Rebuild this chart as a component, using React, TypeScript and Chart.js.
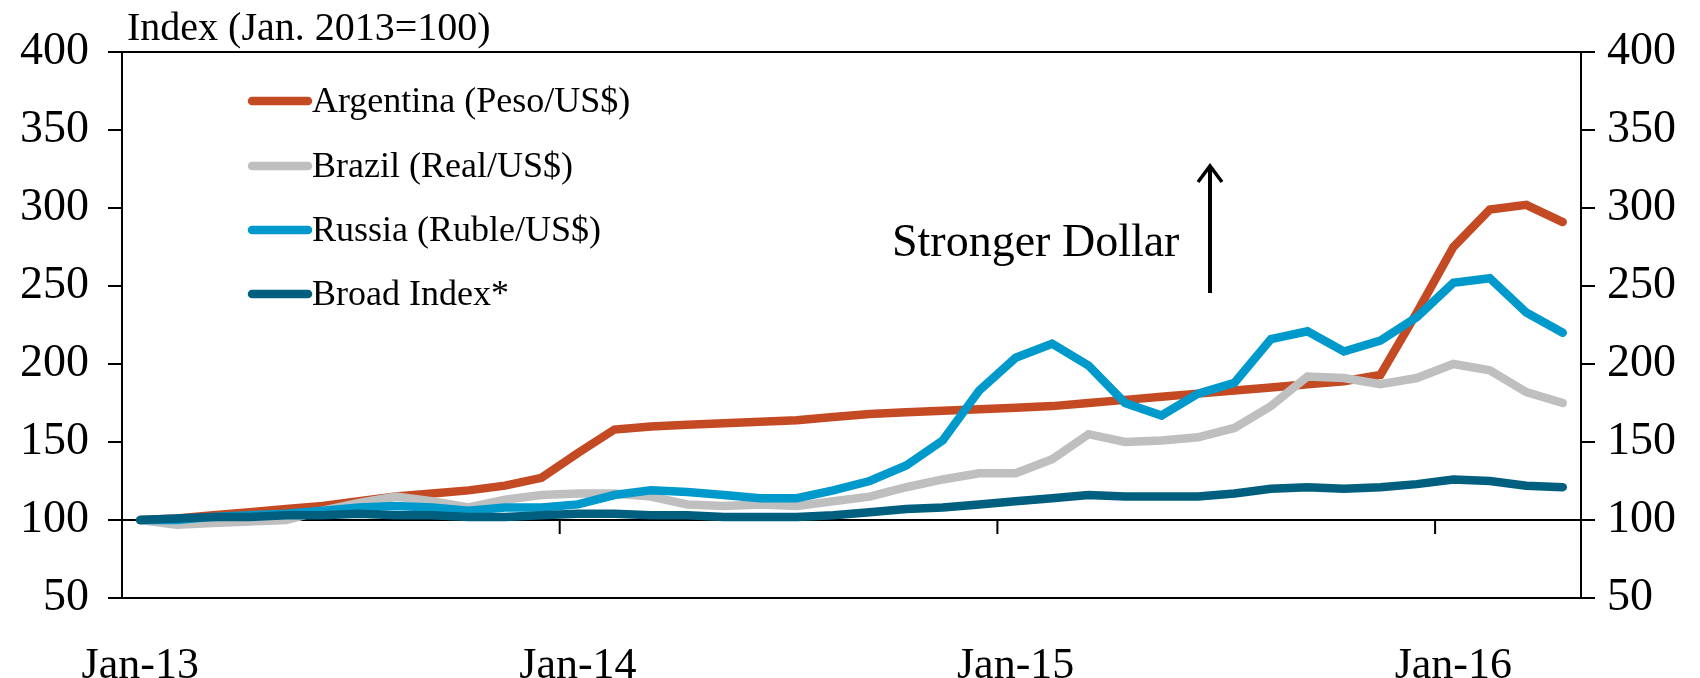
import React, { useEffect, useRef } from "react";
import { Chart, registerables } from "chart.js";
Chart.register(...registerables);

const categories = [
  "Jan-13","Feb-13","Mar-13","Apr-13","May-13","Jun-13","Jul-13","Aug-13","Sep-13","Oct-13","Nov-13","Dec-13",
  "Jan-14","Feb-14","Mar-14","Apr-14","May-14","Jun-14","Jul-14","Aug-14","Sep-14","Oct-14","Nov-14","Dec-14",
  "Jan-15","Feb-15","Mar-15","Apr-15","May-15","Jun-15","Jul-15","Aug-15","Sep-15","Oct-15","Nov-15","Dec-15",
  "Jan-16","Feb-16","Mar-16","Apr-16",
];

const argentina = [100,101,103,105,107,109,112,115,117,119,122,127,143,158,160,161,162,163,164,166,168,169,170,171,172,173,175,177,179,181,183,185,187,189,193,233,275,299,302,291];
const brazil = [100,97,98,99,100,106,111,115,112,108,113,116,117,117,115,110,109,110,109,112,115,121,126,130,130,139,155,150,151,153,159,173,192,191,187,191,200,196,182,175];
const russia = [100,100,102,103,104,106,108,109,108,106,108,108,110,116,119,118,116,114,114,119,125,135,151,183,204,213,199,175,167,181,188,216,221,208,215,230,252,255,233,220];
const broadIndex = [100,101,102,102,103,103,104,103,103,102,102,103,104,104,103,103,102,102,102,103,105,107,108,110,112,114,116,115,115,115,117,120,121,120,121,123,126,125,122,121];

const xTickLabels = ["Jan-13", "Jan-14", "Jan-15", "Jan-16"];
const seriesNames = ["Argentina (Peso/US$)", "Brazil (Real/US$)", "Russia (Ruble/US$)", "Broad Index*"];
const seriesColors = ["#C44A24", "#BFBFBF", "#0099CC", "#005F7F"];
const yTitle = "Index (Jan. 2013=100)";
const annotationText = "Stronger Dollar";

const FONT = "'Liberation Serif', 'DejaVu Serif', serif";

const decorPlugin = {
  id: "decor",
  beforeDatasetsDraw(chart: any) {
    const { ctx, chartArea } = chart;
    const y = chart.scales.y;
    const x = chart.scales.x;
    ctx.save();
    ctx.strokeStyle = "#000";
    ctx.lineWidth = 2;
    ctx.beginPath();
    ctx.moveTo(chartArea.left, chartArea.top);
    ctx.lineTo(chartArea.right, chartArea.top);
    ctx.moveTo(chartArea.left, chartArea.bottom);
    ctx.lineTo(chartArea.right, chartArea.bottom);
    const y100 = y.getPixelForValue(100);
    ctx.moveTo(chartArea.left, y100);
    ctx.lineTo(chartArea.right, y100);
    ctx.stroke();
    ctx.beginPath();
    categories.forEach((c, i) => {
      if (i > 0 && xTickLabels.includes(c)) {
        const px = (x.getPixelForValue(i) + x.getPixelForValue(i - 1)) / 2;
        ctx.moveTo(px, y100);
        ctx.lineTo(px, y100 + 14);
      }
    });
    ctx.stroke();
    ctx.restore();
  },
  afterDraw(chart: any) {
    const { ctx } = chart;
    ctx.save();
    ctx.fillStyle = "#000";
    ctx.font = `40px ${FONT}`;
    ctx.textBaseline = "alphabetic";
    ctx.textAlign = "left";
    ctx.fillText(yTitle, 127, 40);
    const rows = [101, 166, 230, 294];
    ctx.font = `36px ${FONT}`;
    ctx.textBaseline = "middle";
    seriesNames.forEach((n, i) => {
      ctx.strokeStyle = seriesColors[i];
      ctx.lineWidth = 8.5;
      ctx.lineCap = "round";
      ctx.beginPath();
      ctx.moveTo(252, rows[i]);
      ctx.lineTo(308, rows[i]);
      ctx.stroke();
      ctx.fillStyle = "#000";
      ctx.fillText(n, 312, rows[i] + 2);
    });
    ctx.font = `46px ${FONT}`;
    ctx.textBaseline = "alphabetic";
    ctx.fillText(annotationText, 892, 256);
    const ax = 1210;
    ctx.strokeStyle = "#000";
    ctx.lineWidth = 4;
    ctx.lineCap = "butt";
    ctx.beginPath();
    ctx.moveTo(ax, 293);
    ctx.lineTo(ax, 168);
    ctx.stroke();
    ctx.lineWidth = 3.5;
    ctx.beginPath();
    ctx.moveTo(ax - 12, 182);
    ctx.lineTo(ax, 166);
    ctx.lineTo(ax + 12, 182);
    ctx.stroke();
    ctx.restore();
  },
};

export default function App() {
  const ref = useRef<HTMLCanvasElement | null>(null);
  useEffect(() => {
    document.body.style.margin = "0";
    const series = [argentina, brazil, russia, broadIndex];
    const yCommon = (position: string, width: number, pad: number) => ({
      position,
      min: 50,
      max: 400,
      ticks: {
        stepSize: 50,
        color: "#000",
        padding: pad,
        font: { family: FONT, size: 46 },
      },
      grid: { drawOnChartArea: false, drawTicks: true, tickLength: 14, color: "#000", lineWidth: 2 },
      border: { display: true, color: "#000", width: 2 },
      afterFit: (s: any) => {
        s.width = width;
      },
    });
    const chart = new Chart(ref.current as HTMLCanvasElement, {
      type: "line",
      data: {
        labels: categories,
        datasets: series.map((d, i) => ({
          label: seriesNames[i],
          data: d,
          borderColor: seriesColors[i],
          backgroundColor: seriesColors[i],
          borderWidth: 8.5,
          pointRadius: 0,
          tension: 0,
          borderCapStyle: "round" as const,
          borderJoinStyle: "miter" as const,
          order: 4 - i,
          yAxisID: "y",
        })),
      },
      options: {
        responsive: false,
        animation: false,
        layout: { padding: { top: 52, left: 0, right: 0, bottom: 0 } },
        plugins: { legend: { display: false }, tooltip: { enabled: false } },
        scales: {
          x: {
            type: "category",
            offset: true,
            grid: { display: false },
            border: { display: false },
            ticks: {
              autoSkip: false,
              maxRotation: 0,
              color: "#000",
              padding: 34,
              font: { family: FONT, size: 44 },
              callback: (_v: any, idx: number) =>
                xTickLabels.includes(categories[idx]) ? categories[idx] : null,
            },
            afterFit: (s: any) => {
              s.height = 80;
            },
          },
          y: yCommon("left", 122, 19) as any,
          y2: yCommon("right", 119, 12) as any,
        },
      },
      plugins: [decorPlugin],
    });
    return () => chart.destroy();
  }, []);
  return (
    <div style={{ width: 1700, height: 678 }}>
      <canvas ref={ref} width={1700} height={678} style={{ display: "block" }} />
    </div>
  );
}
